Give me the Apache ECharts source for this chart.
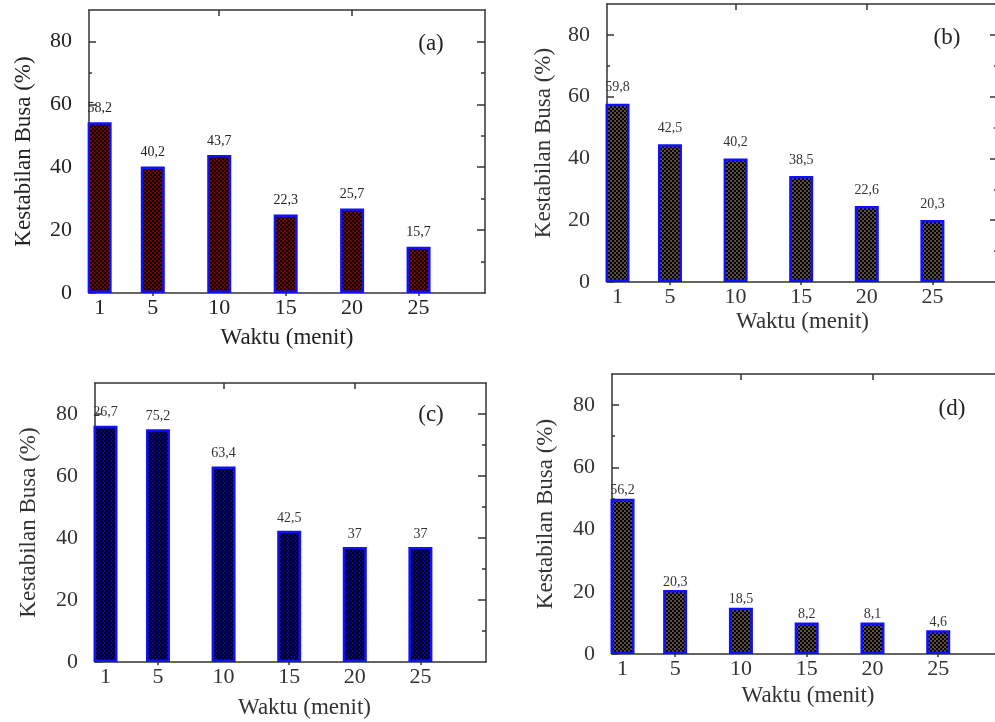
<!DOCTYPE html>
<html>
<head>
<meta charset="utf-8">
<script src="https://cdn.jsdelivr.net/npm/echarts@6/dist/echarts.min.js"></script>
<style>
html,body{margin:0;padding:0;background:#fff;}
#chart{width:995px;height:722px;}
</style>
</head>
<body>
<div id="chart"></div>
<script>
// ---- data ----
const times = [1, 5, 10, 15, 20, 25];
const yTicks = [0, 20, 40, 60, 80];
const yMinorTicks = [10, 30, 50, 70];
const panelTags = ['(a)', '(b)', '(c)', '(d)'];
const xName = 'Waktu (menit)';
const yName = 'Kestabilan Busa (%)';

// bar heights as drawn
const valuesA = [54.3, 40.2, 43.9, 25.0, 26.9, 14.7];
const valuesB = [57.7, 44.6, 40.0, 34.3, 24.6, 20.1];
const valuesC = [76.2, 75.1, 63.1, 42.3, 37.1, 37.1];
const valuesD = [49.9, 20.6, 14.9, 10.1, 10.1, 7.6];
// value labels as printed
const labelsA = ['58,2', '40,2', '43,7', '22,3', '25,7', '15,7'];
const labelsB = ['59,8', '42,5', '40,2', '38,5', '22,6', '20,3'];
const labelsC = ['26,7', '75,2', '63,4', '42,5', '37', '37'];
const labelsD = ['56,2', '20,3', '18,5', '8,2', '8,1', '4,6'];

function pattern(c1, c2) {
  const cv = document.createElement('canvas');
  cv.width = 4; cv.height = 4;
  const g = cv.getContext('2d');
  g.fillStyle = c1; g.fillRect(0, 0, 4, 4);
  g.fillStyle = c2; g.fillRect(0, 0, 2, 2); g.fillRect(2, 2, 2, 2);
  return { image: cv, repeat: 'repeat' };
}

const FONT = 'Liberation Serif';
const panels = [
  { grid: { left: 89, top: 10, width: 396, height: 283 }, values: valuesA, labels: labelsA,
    fill: pattern('#780000', '#000000'), labelDist: 7, yNameGap: 54, xNameGap: 33, xNamePad: 0,
    tag: [431, 44], textColor: '#222' },
  { grid: { left: 607, top: 4, width: 391, height: 278 }, values: valuesB, labels: labelsB,
    fill: pattern('#5e4d3b', '#000000'), labelDist: 9, yNameGap: 52, xNameGap: 28, xNamePad: 0,
    tag: [947, 38], textColor: '#333' },
  { grid: { left: 95, top: 383, width: 391, height: 279 }, values: valuesC, labels: labelsC,
    fill: pattern('#00009a', '#000000'), labelDist: 6, yNameGap: 55, xNameGap: 34, xNamePad: 28,
    tag: [431, 415], textColor: '#333' },
  { grid: { left: 612, top: 374, width: 392, height: 280 }, values: valuesD, labels: labelsD,
    fill: pattern('#5e4d3b', '#000000'), labelDist: 1, yNameGap: 55, xNameGap: 30, xNamePad: 0,
    tag: [952, 409], textColor: '#333' }
];

const grids = [], xAxes = [], yAxes = [], series = [], graphics = [];
const lineStyle = { color: '#333', width: 1.5 };

panels.forEach((p, i) => {
  grids.push(Object.assign({ containLabel: false, outerBoundsMode: 'none' }, p.grid));
  const xBase = xAxes.length;
  xAxes.push({ type: 'value', gridIndex: i, position: 'bottom', min: 0.2, max: 30,
    axisLine: { show: true, onZero: false, lineStyle },
    axisTick: { show: false },
    splitLine: { show: false },
    axisLabel: { customValues: times, margin: 4, fontFamily: FONT, fontSize: 22, color: p.textColor },
    name: xName, nameLocation: 'middle', nameGap: p.xNameGap,
    nameTextStyle: { fontFamily: FONT, fontSize: 23, color: p.textColor, padding: [0, 0, 0, p.xNamePad] } });
  xAxes.push({ type: 'value', gridIndex: i, position: 'top', min: 0.2, max: 30,
    axisLine: { show: true, onZero: false, lineStyle },
    axisTick: { show: true, inside: true, length: 6, customValues: [10, 20], lineStyle },
    axisLabel: { show: false }, splitLine: { show: false } });
  xAxes.push({ type: 'value', gridIndex: i, position: 'top', min: 0.2, max: 30,
    axisLine: { show: false },
    axisTick: { show: true, inside: true, length: 3, customValues: [5, 15, 25], lineStyle },
    axisLabel: { show: false }, splitLine: { show: false } });

  const yBase = yAxes.length;
  yAxes.push({ type: 'value', gridIndex: i, position: 'left', min: 0, max: 90,
    axisLine: { show: true, onZero: false, lineStyle },
    axisTick: { show: true, inside: true, length: 7, customValues: yTicks, lineStyle },
    axisLabel: { customValues: yTicks, margin: 17, fontFamily: FONT, fontSize: 22, color: p.textColor },
    splitLine: { show: false },
    name: yName, nameLocation: 'middle', nameGap: p.yNameGap, nameRotate: 90,
    nameTextStyle: { fontFamily: FONT, fontSize: 23, color: p.textColor } });
  yAxes.push({ type: 'value', gridIndex: i, position: 'left', min: 0, max: 90,
    axisLine: { show: false },
    axisTick: { show: true, inside: true, length: 3, customValues: yMinorTicks, lineStyle },
    axisLabel: { show: false }, splitLine: { show: false } });
  yAxes.push({ type: 'value', gridIndex: i, position: 'right', min: 0, max: 90,
    axisLine: { show: true, onZero: false, lineStyle },
    axisTick: { show: true, inside: true, length: 8, customValues: [20, 40, 60, 80], lineStyle },
    axisLabel: { show: false }, splitLine: { show: false } });
  yAxes.push({ type: 'value', gridIndex: i, position: 'right', min: 0, max: 90,
    axisLine: { show: false },
    axisTick: { show: true, inside: true, length: 4, customValues: yMinorTicks, lineStyle },
    axisLabel: { show: false }, splitLine: { show: false } });

  const labels = p.labels;
  series.push({
    type: 'bar', xAxisIndex: xBase, yAxisIndex: yBase, barWidth: 24, clip: true,
    data: times.map((t, k) => [t, p.values[k]]),
    itemStyle: { color: p.fill, borderColor: '#1010ff', borderWidth: 2.5 },
    label: { show: true, position: 'top', distance: p.labelDist, fontFamily: FONT, fontSize: 14,
      color: p.textColor, formatter: (d) => labels[d.dataIndex] },
    emphasis: { disabled: true }, animation: false
  });

  graphics.push({ type: 'text', x: p.tag[0], y: p.tag[1],
    style: { text: panelTags[i], font: '23px "Liberation Serif"', fill: '#222', align: 'center', verticalAlign: 'middle' } });
});

const chart = echarts.init(document.getElementById('chart'), null, { renderer: 'canvas' });
chart.setOption({
  animation: false,
  grid: grids, xAxis: xAxes, yAxis: yAxes, series: series, graphic: graphics
});
</script>
</body>
</html>
